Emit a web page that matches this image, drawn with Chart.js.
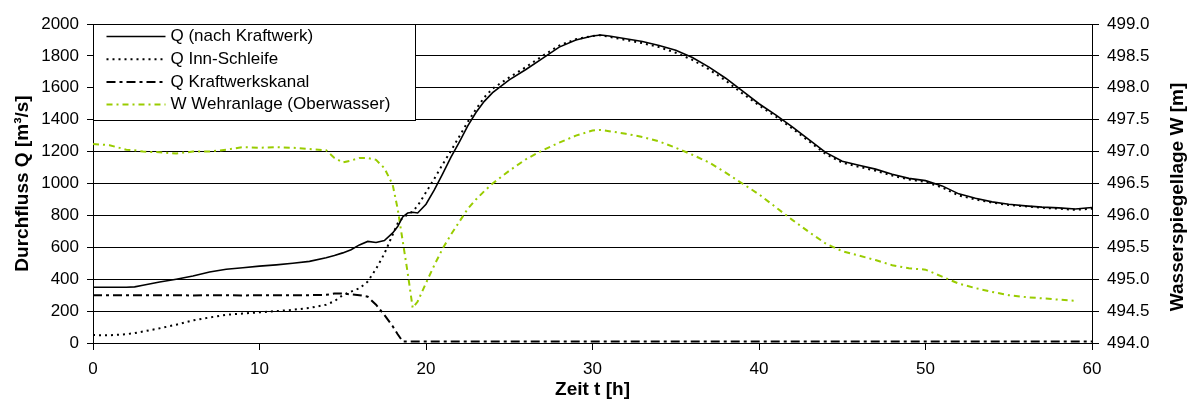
<!DOCTYPE html>
<html>
<head>
<meta charset="utf-8">
<script src="https://cdn.jsdelivr.net/npm/chart.js@4/dist/chart.umd.min.js"></script>
<style>
  html, body { margin: 0; padding: 0; background: #fff; }
  #wrap { width: 1196px; height: 401px; position: relative; }
</style>
</head>
<body>
<div id="wrap"><canvas id="abfluss"></canvas></div>
<script>
// Zeit t [h]
const hours = [0, 1, 2, 2.5, 3, 4, 5, 6, 7, 8, 9, 10, 11, 12, 13, 14,
  14.5, 15, 15.5, 16, 16.5, 17, 17.5, 18, 18.3, 18.6, 18.9, 19.2, 19.5,
  20, 20.5, 21, 21.5, 22, 22.5, 23, 23.5, 24, 25, 26, 27, 28, 29, 30, 30.5,
  31, 32, 33, 34, 35, 36, 37, 38, 39, 40, 41, 42, 43, 44, 45,
  46, 47, 48, 49, 50, 51, 52, 53, 54, 55, 56, 57, 58, 59, 60];

// Q (nach Kraftwerk) [m3/s]
const qKraftwerk = [350, 350, 350, 352, 362, 382, 400, 420, 445, 462, 472, 482, 490, 500, 512, 535,
  548, 565, 585, 615, 637, 630, 642, 690, 730, 790, 815, 820, 815,
  870, 960, 1060, 1165, 1260, 1360, 1445, 1515, 1570, 1650, 1715, 1785, 1855, 1900, 1925, 1931,
  1925, 1908, 1890, 1865, 1835, 1790, 1730, 1660, 1580, 1500, 1430, 1355, 1275, 1195, 1140,
  1115, 1090, 1058, 1032, 1018, 985, 935, 908, 885, 870, 860, 852, 847, 840, 850];

// Q Inn-Schleife [m3/s]
const qInnSchleife = [50, 48, 55, 62, 72, 92, 115, 142, 160, 177, 185, 192, 200, 208, 220, 240,
  262, 300, 322, 343, 385, 465, 560, 680, 750, 785, 805, 825, 860,
  945, 1030, 1120, 1205, 1295, 1385, 1465, 1540, 1595, 1665, 1730, 1800, 1865, 1905, 1925, 1930,
  1920, 1900, 1880, 1855, 1820, 1775, 1715, 1645, 1565, 1490, 1420, 1345, 1265, 1185, 1130,
  1105, 1080, 1050, 1025, 1010, 975, 925, 900, 880, 865, 857, 848, 842, 835, 842];

// Q Kraftwerkskanal [m3/s]
const qKanal = [300, 300, 300, 300, 300, 300, 300, 298, 300, 300, 298, 300, 300, 300, 300, 302,
  310, 310, 305, 300, 290, 240, 176, 105, 55, 10, 10, 10, 10,
  10, 10, 10, 10, 10, 10, 10, 10, 10, 10, 10, 10, 10, 10, 10, 10,
  10, 10, 10, 10, 10, 10, 10, 10, 10, 10, 10, 10, 10, 10, 10,
  10, 10, 10, 10, 10, 10, 10, 10, 10, 10, 10, 10, 10, 10, 10];

// W Wehranlage (Oberwasser) [m]
const wWehr = [497.12, 497.10, 497.03, 497.02, 497.00, 496.99, 496.97, 497.00, 497.00, 497.03, 497.07, 497.06, 497.07, 497.06, 497.04, 497.02,
  496.90, 496.83, 496.86, 496.90, 496.90, 496.87, 496.74, 496.48, 496.10, 495.60, 495.10, 494.55, 494.65,
  494.94, 495.22, 495.48, 495.70, 495.90, 496.10, 496.25, 496.38, 496.50, 496.70, 496.88, 497.02, 497.14, 497.25, 497.33, 497.34,
  497.32, 497.28, 497.23, 497.16, 497.06, 496.95, 496.83, 496.67, 496.50, 496.33, 496.13, 495.93, 495.74, 495.56, 495.44,
  495.37, 495.30, 495.22, 495.17, 495.15, 495.04, 494.93, 494.86, 494.80, 494.75, 494.72, 494.70, 494.68, 494.66, null];

const seriesNames = ['Q (nach Kraftwerk)', 'Q Inn-Schleife', 'Q Kraftwerkskanal', 'W Wehranlage (Oberwasser)'];
const rightTitle = 'Wasserspiegellage W [m]';

const FONT = "'Liberation Sans', Arial, sans-serif";
const GREEN = '#99cc00';

function toPoints(values) {
  return hours.map((t, i) => ({ x: t, y: values[i] }));
}

// Legende als Kasten oben links im Diagramm
const boxLegend = {
  id: 'boxLegend',
  afterDraw(chart) {
    const ctx = chart.ctx;
    const area = chart.chartArea;
    const x0 = area.left + 0.5, y0 = area.top + 0.5;
    const w = 322, h = 96;
    ctx.save();
    ctx.fillStyle = '#fff';
    ctx.fillRect(x0, y0, w, h);
    ctx.strokeStyle = '#000';
    ctx.lineWidth = 1;
    ctx.setLineDash([]);
    ctx.strokeRect(x0, y0, w, h);
    ctx.font = '17px ' + FONT;
    ctx.textBaseline = 'middle';
    ctx.fillStyle = '#000';
    chart.data.datasets.forEach((ds, i) => {
      const y = y0 + 12 + i * 22.7;
      ctx.beginPath();
      ctx.strokeStyle = ds.borderColor;
      ctx.lineWidth = ds.borderWidth;
      ctx.setLineDash(ds.borderDash || []);
      ctx.moveTo(x0 + 13, y);
      ctx.lineTo(x0 + 72, y);
      ctx.stroke();
      ctx.fillText(ds.label, x0 + 77, y);
    });
    ctx.restore();
  }
};

// rechter Achsentitel, von unten nach oben gelesen (wie links)
const rightAxisTitle = {
  id: 'rightAxisTitle',
  afterDraw(chart) {
    const ctx = chart.ctx;
    ctx.save();
    ctx.translate(1178, 197);
    ctx.rotate(-Math.PI / 2);
    ctx.font = 'bold 19px ' + FONT;
    ctx.fillStyle = '#000';
    ctx.textAlign = 'center';
    ctx.textBaseline = 'middle';
    ctx.fillText(rightTitle, 0, 0);
    ctx.restore();
  }
};

const ctx = document.getElementById('abfluss');
new Chart(ctx, {
  type: 'line',
  data: {
    datasets: [
      {
        label: seriesNames[0],
        data: toPoints(qKraftwerk),
        borderColor: '#000',
        borderWidth: 1.6,
        yAxisID: 'y'
      },
      {
        label: seriesNames[1],
        data: toPoints(qInnSchleife),
        borderColor: '#000',
        borderWidth: 2,
        borderDash: [2, 4],
        yAxisID: 'y'
      },
      {
        label: seriesNames[2],
        data: toPoints(qKanal),
        borderColor: '#000',
        borderWidth: 2,
        borderDash: [9, 4, 3, 4],
        yAxisID: 'y'
      },
      {
        label: seriesNames[3],
        data: toPoints(wWehr),
        borderColor: GREEN,
        borderWidth: 2,
        borderDash: [6, 4, 2, 4],
        yAxisID: 'y1'
      }
    ]
  },
  options: {
    responsive: true,
    maintainAspectRatio: false,
    animation: false,
    spanGaps: false,
    layout: { padding: { top: 24, left: 0, right: 0, bottom: 0 } },
    elements: { point: { radius: 0 }, line: { tension: 0 } },
    plugins: {
      legend: { display: false },
      tooltip: { enabled: false }
    },
    scales: {
      x: {
        type: 'linear',
        min: 0,
        max: 60,
        ticks: { stepSize: 10, color: '#000', font: { family: FONT, size: 17 }, padding: 9 },
        grid: { drawOnChartArea: false, drawTicks: true, tickLength: 7, color: '#000' },
        border: { color: '#000', width: 1 },
        title: {
          display: true,
          text: 'Zeit t [h]',
          color: '#000',
          font: { family: FONT, size: 19, weight: 'bold' },
          padding: { top: 0, bottom: 0 }
        },
        afterFit(scale) { scale.height = 58; }
      },
      y: {
        position: 'left',
        min: 0,
        max: 2000,
        ticks: {
          stepSize: 200,
          color: '#000',
          font: { family: FONT, size: 17 },
          padding: 8,
          callback: v => String(v)
        },
        grid: { color: '#000', lineWidth: 1, tickLength: 6 },
        border: { color: '#000', width: 1 },
        title: {
          display: true,
          text: 'Durchfluss Q [m³/s]',
          color: '#000',
          font: { family: FONT, size: 19, weight: 'bold' },
          padding: { top: 11, bottom: 0 }
        },
        afterFit(scale) { scale.width = 93; }
      },
      y1: {
        position: 'right',
        min: 494,
        max: 499,
        ticks: {
          stepSize: 0.5,
          color: '#000',
          font: { family: FONT, size: 17 },
          padding: 8,
          callback: v => v.toFixed(1)
        },
        grid: { drawOnChartArea: false, drawTicks: true, tickLength: 7, color: '#000' },
        border: { color: '#000', width: 1 },
        title: { display: false },
        afterFit(scale) { scale.width = 104; }
      }
    }
  },
  plugins: [boxLegend, rightAxisTitle]
});
</script>
</body>
</html>
